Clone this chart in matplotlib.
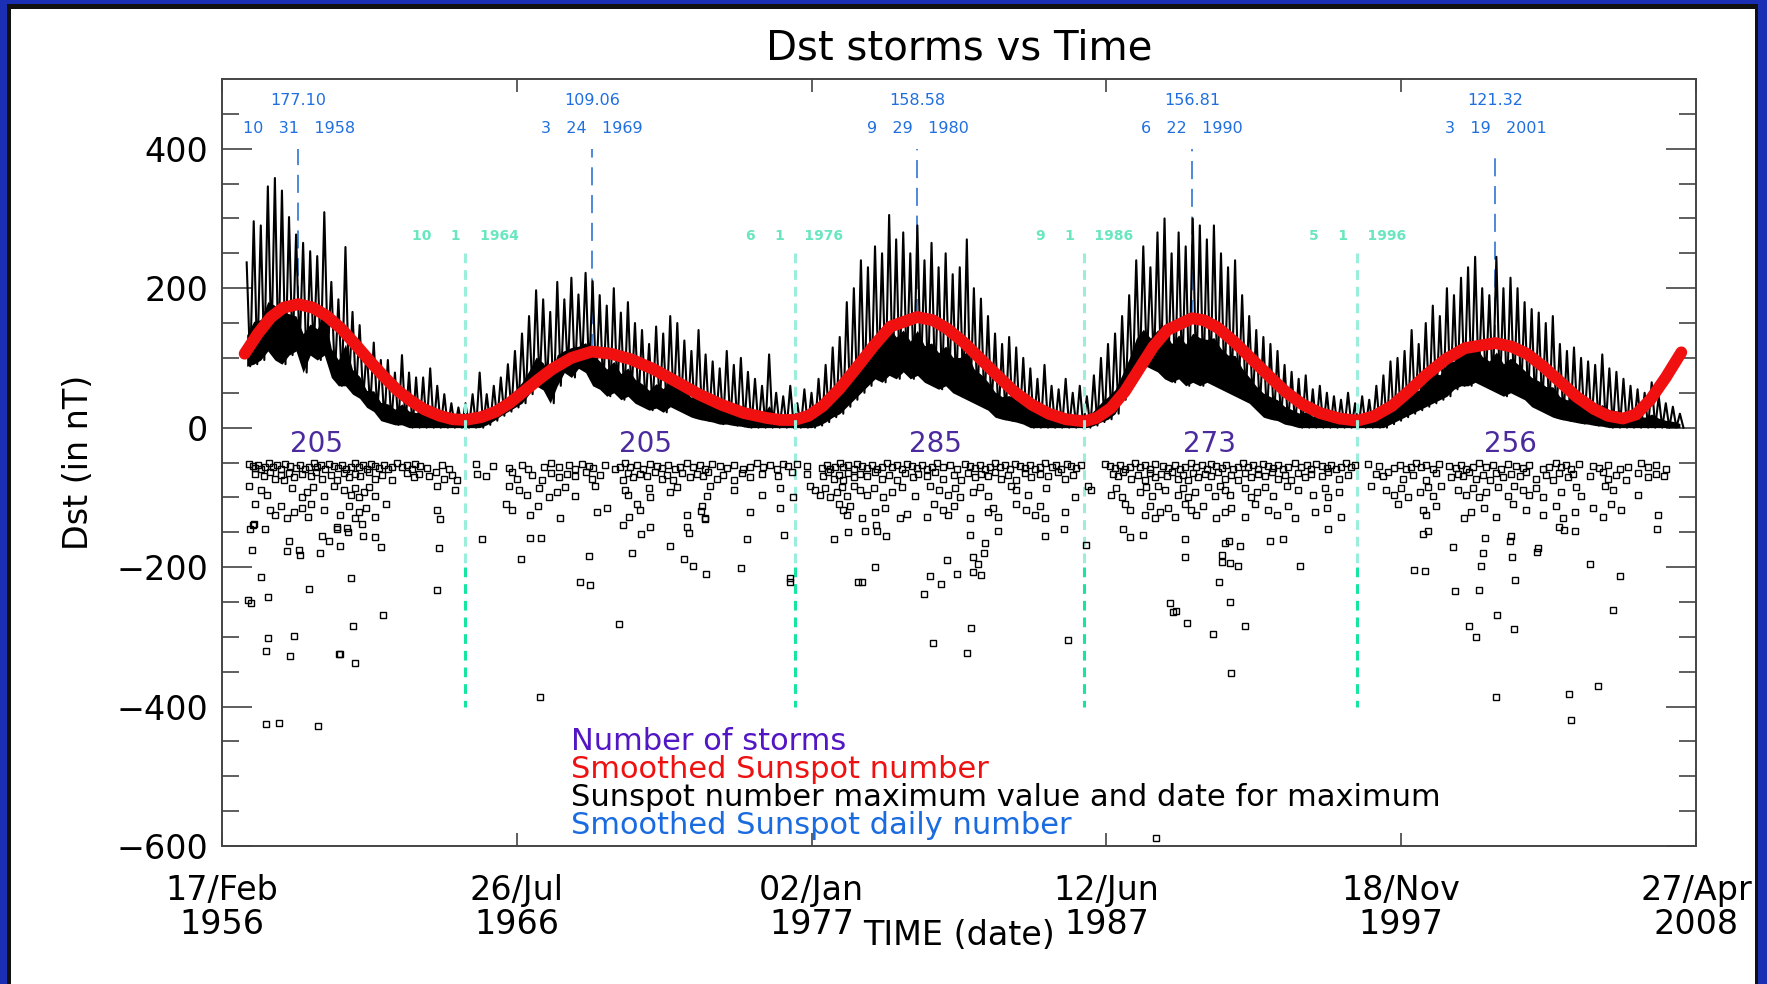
import numpy as np
import matplotlib
matplotlib.use("Agg")
import matplotlib.pyplot as plt
import matplotlib.dates as mdates
from matplotlib.patches import Rectangle
from datetime import datetime, timedelta

# time axis limits / tick dates
tick_dates = ["1956-02-17", "1966-07-26", "1977-01-02", "1987-06-12", "1997-11-18", "2008-04-27"]

# daily sunspot number envelope, one value per quarter starting 1957.0
spot_hi = [237, 296, 290, 346, 358, 340, 302, 277, 265, 253, 246, 309,
           209, 184, 259, 166, 147, 110, 122, 97, 97, 79, 104, 79,
           72, 72, 85, 60, 48, 35, 29, 35, 48, 79, 48, 60,
           72, 91, 110, 135, 160, 197, 184, 166, 209, 184, 215, 191,
           222, 210, 190, 175, 200, 165, 180, 150, 140, 120, 145, 135,
           160, 150, 125, 110, 140, 105, 95, 85, 110, 90, 100, 80,
           70, 60, 105, 50, 45, 60, 35, 55, 50, 70, 90, 115,
           130, 180, 200, 240, 230, 260, 250, 305, 270, 280, 250, 290,
           240, 265, 230, 250, 220, 230, 270, 200, 185, 160, 135, 120,
           130, 115, 100, 85, 70, 90, 60, 55, 70, 50, 60, 45,
           75, 100, 120, 135, 160, 190, 240, 260, 230, 280, 300, 250,
           280, 260, 300, 290, 270, 290, 250, 230, 240, 190, 160, 140,
           130, 120, 110, 90, 80, 70, 75, 55, 60, 50, 45, 40,
           50, 35, 45, 40, 60, 75, 95, 100, 110, 140, 120, 150,
           175, 160, 200, 190, 215, 230, 245, 200, 190, 245, 200, 215,
           200, 180, 170, 165, 150, 160, 120, 110, 115, 100, 95, 90,
           105, 85, 80, 70, 60, 55, 50, 65, 45, 35, 30, 20]
spot_lo = [88, 91, 97, 110, 97, 91, 104, 110, 79, 104, 97, 104,
           72, 60, 60, 48, 42, 29, 23, 10, 7, 4, 4, 0,
           0, 0, 0, 0, 0, 0, 0, 0, 0, 0, 4, 10,
           17, 23, 29, 35, 48, 60, 54, 35, 60, 79, 72, 85,
           79, 60, 55, 45, 50, 40, 45, 35, 30, 25, 28, 22,
           30, 25, 20, 15, 12, 10, 8, 5, 5, 3, 2, 0,
           0, 0, 0, 0, 0, 0, 0, 0, 0, 3, 8, 15,
           20, 30, 40, 50, 60, 70, 65, 75, 70, 80, 70, 75,
           65, 60, 55, 60, 50, 45, 40, 35, 30, 25, 15, 12,
           10, 8, 5, 0, 0, 0, 0, 0, 0, 0, 0, 0,
           3, 8, 12, 20, 40, 60, 80, 90, 85, 80, 70, 65,
           70, 60, 65, 60, 65, 60, 55, 50, 45, 40, 35, 25,
           15, 12, 10, 5, 3, 0, 0, 0, 0, 0, 0, 0,
           0, 0, 0, 0, 0, 0, 5, 10, 15, 20, 25, 30,
           35, 40, 45, 55, 60, 60, 65, 60, 55, 50, 45, 50,
           45, 40, 30, 25, 20, 15, 12, 10, 8, 6, 5, 3,
           2, 0, 0, 0, 0, 0, 0, 0, 0, 0, 0, 0]

# smoothed sunspot number (decimal year, value)
smooth_t = [1956.93, 1957.4, 1957.85, 1958.3, 1958.83, 1959.35, 1959.84, 1960.35, 1960.84, 1961.35,
            1961.84, 1962.35, 1962.83, 1963.3, 1963.83, 1964.3, 1964.75, 1965.3, 1965.83, 1966.3,
            1966.82, 1967.3, 1967.82, 1968.5, 1969.22, 1969.9, 1970.61, 1971.4, 1972.21, 1973.0,
            1973.8, 1974.6, 1975.4, 1975.9, 1976.41, 1976.9, 1977.4, 1978.0, 1978.6, 1979.2,
            1979.8, 1980.74, 1981.3, 1981.8, 1982.4, 1983.0, 1983.6, 1984.2, 1984.8, 1985.4,
            1986.0, 1986.67, 1987.1, 1987.6, 1988.1, 1988.6, 1989.1, 1989.6, 1990.47, 1990.9,
            1991.4, 1992.0, 1992.6, 1993.2, 1993.8, 1994.4, 1995.0, 1995.7, 1996.33, 1996.9,
            1997.55, 1998.15, 1998.75, 1999.45, 2000.14, 2001.21, 2001.8, 2002.33, 2002.9, 2003.5,
            2004.1, 2004.7, 2005.2, 2005.73, 2006.2, 2006.7, 2007.25, 2007.8]
smooth_v = [106, 135, 158, 172, 177.10, 172, 160, 142, 120, 96,
            74, 53, 38, 26, 17, 12, 11, 15, 23, 35,
            52, 68, 84, 100, 109.06, 106, 98, 84, 66, 48,
            33, 21, 14, 11, 11, 17, 31, 56, 86, 117,
            145, 158.58, 154, 142, 122, 98, 74, 51, 33, 20,
            12, 9, 14, 28, 52, 84, 116, 140, 156.81, 154,
            143, 122, 98, 74, 51, 33, 21, 13, 10, 16,
            31, 52, 75, 98, 114, 121.32, 116, 106, 88, 66,
            44, 27, 17, 13, 19, 40, 72, 108]

# cycle maxima and minima
max_dates = ["1958-10-31", "1969-03-24", "1980-09-29", "1990-06-22", "2001-03-19"]
max_values = [177.10, 109.06, 158.58, 156.81, 121.32]
min_dates = ["1964-10-01", "1976-06-01", "1986-09-01", "1996-05-01"]

# storms per cycle and where the count is written
storm_counts = [205, 205, 285, 273, 256]
count_years = [1959.48, 1971.13, 1981.39, 1991.08, 2001.74]

# storms (decimal year, minimum Dst in nT)
storms_19 = [
    (1957.10, -52), (1957.22, -55), (1957.31, -58), (1957.41, -53), (1957.52, -60), (1957.64, -56),
    (1957.78, -51), (1957.92, -57), (1958.08, -54), (1958.23, -59), (1958.37, -52), (1958.55, -55),
    (1958.75, -58), (1958.90, -53), (1959.06, -60), (1959.22, -56), (1959.38, -51), (1959.49, -57),
    (1959.65, -54), (1959.79, -59), (1959.93, -52), (1960.09, -55), (1960.24, -58), (1960.38, -53),
    (1960.52, -60), (1960.68, -56), (1960.83, -51), (1960.97, -57), (1961.11, -54), (1961.27, -59),
    (1961.41, -52), (1961.56, -55), (1961.70, -58), (1961.86, -53), (1962.00, -60), (1962.15, -56),
    (1962.33, -51), (1962.51, -57), (1962.68, -54), (1962.84, -59), (1962.95, -52), (1963.15, -55),
    (1963.39, -58), (1963.92, -53), (1964.16, -60),
    (1957.31, -66), (1957.61, -70), (1957.84, -64), (1958.02, -73), (1958.20, -68), (1958.31, -75),
    (1958.49, -65), (1958.67, -71), (1958.96, -66), (1959.29, -70), (1959.44, -64), (1959.67, -73),
    (1959.97, -68), (1960.20, -75), (1960.44, -65), (1960.62, -71), (1960.85, -66), (1961.03, -70),
    (1961.32, -64), (1961.54, -73), (1961.80, -68), (1962.15, -75), (1962.68, -65), (1962.92, -71),
    (1963.10, -66), (1963.45, -70), (1963.69, -64), (1963.98, -73), (1964.28, -68), (1964.45, -75),
    (1957.07, -84), (1957.49, -90), (1957.72, -96), (1958.61, -87), (1958.96, -100), (1959.14, -92),
    (1959.34, -85), (1959.73, -98), (1960.09, -84), (1960.44, -90), (1960.68, -96), (1960.85, -87),
    (1960.97, -100), (1961.15, -92), (1961.32, -85), (1961.56, -98), (1963.75, -84), (1964.39, -90),
    (1957.29, -110), (1957.84, -118), (1958.02, -125), (1958.20, -113), (1958.43, -130), (1958.67, -121),
    (1958.96, -115), (1959.18, -128), (1959.29, -110), (1959.73, -118), (1960.32, -125), (1960.64, -113),
    (1960.85, -130), (1960.97, -121), (1961.21, -115), (1961.56, -128), (1961.94, -110), (1963.75, -118),
    (1957.25, -138), (1957.66, -146), (1960.20, -142), (1960.59, -150), (1961.09, -138),
    (1957.19, -176), (1957.49, -214), (1957.05, -247), (1957.16, -252), (1957.75, -243), (1959.22, -231),
    (1960.71, -216), (1961.84, -269), (1960.76, -285), (1957.75, -301), (1958.68, -299), (1957.69, -321),
    (1958.54, -327), (1960.26, -325), (1960.30, -324), (1960.85, -337), (1957.69, -425), (1958.14, -424),
    (1959.52, -428), (1963.73, -233), (1963.82, -173), (1958.43, -177), (1958.49, -163), (1958.90, -182),
    (1958.85, -176), (1959.61, -180), (1960.32, -170), (1959.67, -156), (1959.91, -163), (1961.56, -157),
    (1961.75, -171), (1957.23, -140), (1957.13, -146), (1960.20, -146), (1960.56, -144), (1961.11, -156),
    (1963.83, -131)]

storms_20 = [
    (1965.13, -52), (1965.72, -55), (1966.28, -58), (1966.76, -53), (1966.97, -60), (1967.52, -56),
    (1967.76, -51), (1968.05, -57), (1968.41, -54), (1968.64, -59), (1968.88, -52), (1969.12, -55),
    (1969.28, -58), (1969.69, -53), (1970.05, -60), (1970.22, -56), (1970.40, -51), (1970.58, -57),
    (1970.81, -54), (1971.05, -59), (1971.29, -52), (1971.52, -55), (1971.70, -58), (1971.93, -53),
    (1972.17, -60), (1972.35, -56), (1972.58, -51), (1972.82, -57), (1973.06, -54), (1973.23, -59),
    (1973.47, -52), (1973.76, -55), (1974.00, -58), (1974.26, -53), (1974.59, -60), (1974.83, -56),
    (1975.06, -51), (1975.30, -57), (1975.54, -54), (1975.77, -59), (1975.98, -52), (1976.18, -55),
    (1965.16, -66), (1965.46, -70), (1966.40, -64), (1966.58, -73), (1967.11, -68), (1967.46, -75),
    (1967.76, -65), (1968.05, -71), (1968.35, -66), (1968.64, -70), (1969.00, -64), (1969.22, -73),
    (1969.51, -68), (1970.34, -75), (1970.52, -65), (1970.69, -71), (1970.93, -66), (1971.17, -70),
    (1971.46, -64), (1971.70, -73), (1971.88, -68), (1972.11, -75), (1972.41, -65), (1972.70, -71),
    (1972.94, -66), (1973.17, -70), (1973.35, -64), (1973.65, -73), (1973.88, -68), (1974.24, -75),
    (1974.53, -65), (1974.83, -71), (1975.24, -66), (1975.83, -70), (1976.30, -64),
    (1966.28, -84), (1966.64, -90), (1966.93, -96), (1967.35, -87), (1967.70, -100), (1968.00, -92),
    (1968.29, -85), (1968.64, -98), (1969.34, -84), (1970.40, -90), (1970.52, -96), (1971.23, -87),
    (1971.29, -100), (1971.99, -92), (1972.23, -85), (1973.29, -98), (1973.41, -84), (1974.24, -90),
    (1975.24, -96), (1975.89, -87), (1976.36, -100),
    (1966.17, -110), (1966.40, -118), (1967.05, -125), (1967.32, -113), (1968.11, -130), (1969.40, -121),
    (1969.75, -115), (1970.55, -128), (1970.81, -110), (1970.93, -118), (1972.58, -125), (1973.12, -113),
    (1973.23, -130), (1974.83, -121), (1975.89, -115),
    (1965.32, -160), (1966.70, -188), (1967.38, -386), (1967.04, -158), (1967.43, -158), (1968.82, -221),
    (1969.15, -225), (1969.12, -184), (1970.20, -281), (1976.24, -216), (1976.24, -222), (1974.51, -202),
    (1973.27, -210), (1972.82, -198), (1972.49, -188), (1970.66, -180), (1971.99, -170), (1974.71, -159),
    (1976.04, -154), (1970.95, -152), (1971.29, -142), (1970.31, -140), (1972.58, -142), (1972.68, -151),
    (1973.08, -120), (1973.23, -131)]

storms_21 = [
    (1976.48, -52), (1976.83, -55), (1977.37, -58), (1977.54, -53), (1977.66, -60), (1977.84, -56),
    (1978.01, -51), (1978.13, -57), (1978.31, -54), (1978.49, -59), (1978.60, -52), (1978.78, -55),
    (1978.96, -58), (1979.14, -53), (1979.31, -60), (1979.49, -56), (1979.67, -51), (1979.84, -57),
    (1980.02, -54), (1980.20, -59), (1980.38, -52), (1980.55, -55), (1980.73, -58), (1980.91, -53),
    (1981.08, -60), (1981.26, -56), (1981.44, -51), (1981.67, -57), (1981.91, -54), (1982.15, -59),
    (1982.43, -52), (1982.60, -55), (1982.78, -58), (1982.96, -53), (1983.13, -60), (1983.31, -56),
    (1983.49, -51), (1983.67, -57), (1983.84, -54), (1984.02, -59), (1984.20, -52), (1984.37, -55),
    (1984.55, -58), (1984.73, -53), (1984.91, -60), (1985.08, -56), (1985.26, -51), (1985.50, -57),
    (1985.67, -54), (1985.85, -59), (1986.03, -52), (1986.20, -55), (1986.38, -58), (1986.56, -53),
    (1976.83, -66), (1977.42, -70), (1977.60, -64), (1977.78, -73), (1977.96, -68), (1978.13, -75),
    (1978.31, -65), (1978.49, -71), (1978.72, -66), (1978.96, -70), (1979.25, -64), (1979.49, -73),
    (1979.73, -68), (1980.02, -75), (1980.32, -65), (1980.61, -71), (1980.79, -66), (1981.08, -70),
    (1981.38, -64), (1981.67, -73), (1982.03, -68), (1982.31, -75), (1982.54, -65), (1982.78, -71),
    (1983.02, -66), (1983.25, -70), (1983.49, -64), (1983.72, -73), (1983.96, -68), (1984.26, -75),
    (1984.55, -65), (1984.79, -71), (1985.08, -66), (1985.38, -70), (1985.73, -64), (1985.97, -73),
    (1986.26, -68),
    (1976.95, -84), (1977.13, -90), (1977.31, -96), (1977.48, -87), (1977.66, -100), (1977.90, -92),
    (1978.07, -85), (1978.25, -98), (1978.49, -84), (1978.72, -90), (1978.96, -96), (1979.20, -87),
    (1979.55, -100), (1979.84, -92), (1980.20, -85), (1980.67, -98), (1981.20, -84), (1981.50, -90),
    (1981.85, -96), (1982.09, -87), (1982.25, -100), (1982.72, -92), (1982.96, -85), (1983.25, -98),
    (1984.08, -84), (1984.26, -90), (1984.67, -96), (1985.32, -87), (1986.32, -100),
    (1977.96, -110), (1978.13, -118), (1978.25, -125), (1978.37, -113), (1978.78, -130), (1979.25, -121),
    (1979.61, -115), (1981.08, -128), (1981.32, -110), (1981.67, -118), (1981.85, -125), (1982.03, -113),
    (1982.60, -130), (1983.25, -121), (1983.43, -115), (1983.61, -128), (1984.26, -110), (1984.61, -118),
    (1984.91, -125), (1985.08, -113), (1985.26, -130), (1985.97, -121),
    (1978.66, -222), (1978.78, -221), (1979.25, -200), (1977.81, -159), (1981.20, -213), (1981.58, -224),
    (1980.99, -238), (1981.79, -190), (1981.30, -309), (1982.15, -210), (1978.31, -150), (1978.90, -148),
    (1979.28, -139), (1979.64, -156), (1980.14, -129), (1980.40, -124), (1979.31, -148), (1982.60, -154),
    (1983.13, -165), (1982.72, -185), (1982.90, -196), (1983.11, -180), (1982.72, -207), (1983.02, -211),
    (1982.66, -288), (1982.52, -323), (1986.09, -305), (1985.28, -156), (1985.94, -146), (1983.61, -148)]

storms_22 = [
    (1987.38, -52), (1987.56, -55), (1987.74, -58), (1987.92, -53), (1988.09, -60), (1988.27, -56),
    (1988.45, -51), (1988.62, -57), (1988.80, -54), (1988.98, -59), (1989.16, -52), (1989.45, -55),
    (1989.63, -58), (1989.86, -53), (1990.04, -60), (1990.22, -56), (1990.45, -51), (1990.63, -57),
    (1990.81, -54), (1990.99, -59), (1991.16, -52), (1991.34, -55), (1991.52, -58), (1991.69, -53),
    (1991.93, -60), (1992.11, -56), (1992.28, -51), (1992.46, -57), (1992.64, -54), (1992.82, -59),
    (1992.99, -52), (1993.17, -55), (1993.35, -58), (1993.52, -53), (1993.70, -60), (1993.88, -56),
    (1994.11, -51), (1994.35, -57), (1994.53, -54), (1994.70, -59), (1994.88, -52), (1995.06, -55),
    (1995.24, -58), (1995.40, -53), (1995.57, -60), (1995.75, -56), (1995.93, -51), (1996.11, -57),
    (1996.26, -54),
    (1987.68, -66), (1987.86, -70), (1988.03, -64), (1988.33, -73), (1988.57, -68), (1988.80, -75),
    (1988.98, -65), (1989.16, -71), (1989.39, -66), (1989.57, -70), (1989.75, -64), (1989.98, -73),
    (1990.16, -68), (1990.34, -75), (1990.51, -65), (1990.69, -71), (1990.93, -66), (1991.16, -70),
    (1991.40, -64), (1991.63, -73), (1991.87, -68), (1992.11, -75), (1992.34, -65), (1992.58, -71),
    (1992.82, -66), (1993.05, -70), (1993.29, -64), (1993.52, -73), (1993.76, -68), (1993.99, -75),
    (1994.23, -65), (1994.47, -71), (1994.70, -66), (1995.06, -70), (1995.28, -64), (1995.69, -73),
    (1995.99, -68),
    (1986.79, -84), (1986.91, -90), (1987.62, -96), (1987.80, -87), (1987.98, -100), (1988.62, -92),
    (1988.86, -85), (1989.04, -98), (1989.27, -84), (1989.51, -90), (1989.98, -96), (1990.16, -87),
    (1990.34, -100), (1990.57, -92), (1991.04, -85), (1991.28, -98), (1991.46, -84), (1991.63, -90),
    (1991.81, -96), (1992.34, -87), (1992.58, -100), (1992.76, -92), (1993.05, -85), (1993.35, -98),
    (1993.82, -84), (1994.23, -90), (1994.76, -96), (1995.18, -87), (1995.28, -100), (1995.69, -92),
    (1988.09, -110), (1988.27, -118), (1988.80, -125), (1988.98, -113), (1989.16, -130), (1989.33, -121),
    (1989.63, -115), (1989.86, -128), (1990.22, -110), (1990.45, -118), (1990.63, -125), (1990.87, -113),
    (1991.34, -130), (1991.63, -121), (1991.87, -115), (1992.34, -128), (1992.70, -110), (1993.17, -118),
    (1993.47, -125), (1993.88, -113), (1994.11, -130), (1994.82, -121), (1995.24, -115), (1995.75, -128),
    (1995.28, -146),
    (1986.71, -168), (1988.03, -146), (1988.27, -157), (1988.74, -154), (1990.22, -160), (1990.24, -186),
    (1991.64, -165), (1991.78, -162), (1992.17, -170), (1991.52, -182), (1991.54, -193), (1991.81, -194),
    (1992.11, -199), (1993.25, -163), (1993.70, -160), (1994.29, -199), (1991.42, -221), (1989.69, -252),
    (1989.81, -264), (1989.89, -263), (1990.28, -280), (1991.22, -296), (1991.81, -250), (1992.34, -285),
    (1991.87, -352), (1989.19, -589)]

storms_23 = [
    (1996.70, -52), (1997.11, -55), (1997.64, -58), (1997.82, -53), (1998.05, -60), (1998.23, -56),
    (1998.41, -51), (1998.58, -57), (1998.76, -54), (1999.00, -59), (1999.23, -52), (1999.59, -55),
    (1999.82, -58), (2000.00, -53), (2000.18, -60), (2000.41, -56), (2000.65, -51), (2000.89, -57),
    (2001.12, -54), (2001.42, -59), (2001.65, -52), (2001.95, -55), (2002.19, -58), (2002.42, -53),
    (2002.89, -60), (2003.13, -56), (2003.37, -51), (2003.54, -57), (2003.72, -54), (2003.90, -59),
    (2004.19, -52), (2004.67, -55), (2004.90, -58), (2005.20, -53), (2005.61, -60), (2005.90, -56),
    (2006.38, -51), (2006.61, -57), (2006.91, -54), (2007.26, -59),
    (1996.99, -66), (1997.23, -70), (1997.40, -64), (1997.94, -73), (1998.29, -68), (1998.76, -75),
    (1999.12, -65), (1999.65, -71), (1999.88, -66), (2000.06, -70), (2000.30, -64), (2000.53, -73),
    (2000.77, -68), (2001.01, -75), (2001.24, -65), (2001.48, -71), (2001.77, -66), (2002.07, -70),
    (2002.30, -64), (2002.66, -73), (2003.01, -68), (2003.25, -75), (2003.48, -65), (2003.78, -71),
    (2003.96, -66), (2004.55, -70), (2005.02, -64), (2005.20, -73), (2005.49, -68), (2005.85, -75),
    (2006.26, -65), (2006.61, -71), (2006.91, -66), (2007.20, -70),
    (1996.81, -84), (1997.35, -90), (1997.64, -96), (1997.88, -87), (1998.11, -100), (1998.53, -92),
    (1998.82, -85), (1999.00, -98), (1999.29, -84), (1999.88, -90), (2000.18, -96), (2000.41, -87),
    (2000.65, -100), (2000.89, -92), (2001.30, -85), (2001.65, -98), (2001.89, -84), (2002.19, -90),
    (2002.42, -96), (2002.66, -87), (2002.89, -100), (2003.54, -92), (2004.07, -85), (2004.25, -98),
    (2005.08, -84), (2005.37, -90), (2006.26, -96),
    (1997.76, -110), (1998.64, -118), (1998.76, -125), (1999.12, -113), (2000.12, -130), (2000.36, -121),
    (2000.83, -115), (2001.24, -128), (2001.83, -110), (2002.30, -118), (2002.89, -125), (2003.37, -113),
    (2003.60, -130), (2004.02, -121), (2004.67, -115), (2005.02, -128), (2005.31, -110), (2005.67, -118),
    (2006.97, -125),
    (1999.73, -171), (1998.64, -152), (1998.82, -148), (2000.77, -180), (2000.86, -158), (2000.72, -199),
    (2001.77, -156), (2001.81, -186), (2001.75, -163), (2002.68, -179), (2002.72, -173), (1998.35, -204),
    (1998.74, -206), (2001.90, -219), (1999.78, -235), (2000.62, -233), (2001.27, -269), (2000.27, -285),
    (2000.53, -300), (2001.86, -289), (2001.22, -386), (2003.84, -382), (2003.89, -420), (2004.84, -371),
    (2004.58, -196), (2005.61, -213), (2005.37, -261), (2003.48, -142), (2003.66, -147), (2004.02, -148),
    (2006.94, -146)]


def yr2num(y):
    # decimal year -> matplotlib date number
    y = np.atleast_1d(np.asarray(y, dtype=float))
    out = []
    for v in y:
        y0 = int(v)
        out.append(mdates.date2num(datetime(y0, 1, 1) + timedelta(days=(v - y0) * 365.25)))
    return np.array(out)


def str2num(s):
    return mdates.date2num(datetime.strptime(s, "%Y-%m-%d"))


plt.rcParams['font.family'] = 'DejaVu Sans'
plt.rcParams['lines.scale_dashes'] = False

W, H = 1767, 984
fig = plt.figure(figsize=(W / 100, H / 100), dpi=100)
fig.patch.set_facecolor('#1b2fb4')
# black inner frame and white page
fig.add_artist(Rectangle((7 / W, 0), (1758 - 7) / W, (H - 4) / H, transform=fig.transFigure,
                         facecolor='#111111', edgecolor='none', zorder=-10))
fig.add_artist(Rectangle((11 / W, 0), (1755 - 11) / W, (H - 9) / H, transform=fig.transFigure,
                         facecolor='white', edgecolor='none', zorder=-9))

ax = fig.add_axes([222 / W, 138 / H, 1474 / W, 767 / H])
ax.set_facecolor('none')

# daily sunspot number: solid core plus zig-zag spikes between lows and tops
spot_t = 1957.0 + 0.25 * np.arange(len(spot_hi))
lo = np.array(spot_lo, dtype=float)
hi = np.array(spot_hi, dtype=float)
ax.fill_between(yr2num(spot_t), lo, lo + 0.3 * (hi - lo), color='black', lw=0, zorder=2)
zx = np.empty(2 * len(spot_t))
zy = np.empty(2 * len(spot_t))
zx[0::2] = spot_t
zx[1::2] = spot_t + 0.125
zy[0::2] = hi
zy[1::2] = lo
ax.plot(yr2num(zx), zy, color='black', lw=1.5, zorder=2)

# smoothed sunspot number
ax.plot(yr2num(smooth_t), smooth_v, color='#f01010', lw=8.5, solid_capstyle='round',
        solid_joinstyle='round', zorder=3)

# maxima: blue dashed lines with value and date
for d, v in zip(max_dates, max_values):
    x = str2num(d)
    dt = datetime.strptime(d, "%Y-%m-%d")
    ax.plot([x, x], [v, 400], color='#3f7fd6', lw=1.3, dashes=(13, 7), zorder=1)
    ax.text(x, 469, f"{v:.2f}", color='#1f6fe0', fontsize=11.5, ha='center', va='center')
    ax.text(x + 5, 429, f"{dt.month}   {dt.day}   {dt.year}", color='#1f6fe0', fontsize=11.5,
            ha='center', va='center')

# minima: cyan dashed lines with date
for d in min_dates:
    x = str2num(d)
    dt = datetime.strptime(d, "%Y-%m-%d")
    ax.plot([x, x], [250, -200], color='#9aeedb', lw=2.2, dashes=(7, 5), zorder=4)
    ax.plot([x, x], [-200, -400], color='#18e4a2', lw=2.2, dashes=(7, 5), zorder=4)
    ax.text(x, 275, f"{dt.month}    {dt.day}    {dt.year}", color='#4fe2b4', fontsize=10,
            fontweight='bold', ha='center', va='center', alpha=0.85)

# storms
storms = storms_19 + storms_20 + storms_21 + storms_22 + storms_23
st_t = [s[0] for s in storms]
st_v = [s[1] for s in storms]
ax.plot(yr2num(st_t), st_v, ls='none', marker='s', ms=4.5, mfc='none', mec='black', mew=1.0, zorder=5)

for yc, n in zip(count_years, storm_counts):
    ax.text(yr2num(yc)[0], -24, str(n), color='#4b2a9e', fontsize=20, ha='center', va='center')

# axes
ax.set_xlim(str2num(tick_dates[0]), str2num(tick_dates[-1]))
ax.set_ylim(-600, 500)
ax.set_xticks([str2num(d) for d in tick_dates])
ax.set_xticklabels([datetime.strptime(d, "%Y-%m-%d").strftime("%d/%b\n%Y") for d in tick_dates],
                   fontsize=24, linespacing=1.05)
ax.set_yticks([-600, -400, -200, 0, 200, 400])
ax.set_yticks(np.arange(-550, 500, 50), minor=True)
ax.tick_params(axis='x', which='major', direction='in', length=9.5, width=1.1, top=True,
               pad=20, color='#333333')
ax.tick_params(axis='y', which='major', direction='in', length=21.5, width=1.1, right=True,
               labelsize=24, pad=10, color='#333333')
ax.tick_params(axis='y', which='minor', direction='in', length=12, width=1.1, right=True,
               color='#333333')
for sp in ax.spines.values():
    sp.set_linewidth(1.4)
    sp.set_color('#444444')

fig.text(0.5426, 0.9393, 'Dst storms vs Time', fontsize=29, ha='center', va='baseline')
fig.text(0.5426, 0.049, 'TIME (date)', fontsize=24, ha='center', va='center')
fig.text(0.0447, 0.5305, 'Dst (in nT)', fontsize=24, rotation=90, ha='center', va='center')

# legend lines
legend_txt = ["Number of storms", "Smoothed Sunspot number",
              "Sunspot number maximum value and date for maximum", "Smoothed Sunspot daily number"]
legend_col = ['#5316c4', '#ee1111', 'black', '#1a6be0']
for i, (t, c) in enumerate(zip(legend_txt, legend_col)):
    fig.text(0.3231, 0.2373 - i * 0.0283, t, color=c, fontsize=22, ha='left', va='baseline')

fig.savefig('out.png', dpi=100, facecolor=fig.get_facecolor())
